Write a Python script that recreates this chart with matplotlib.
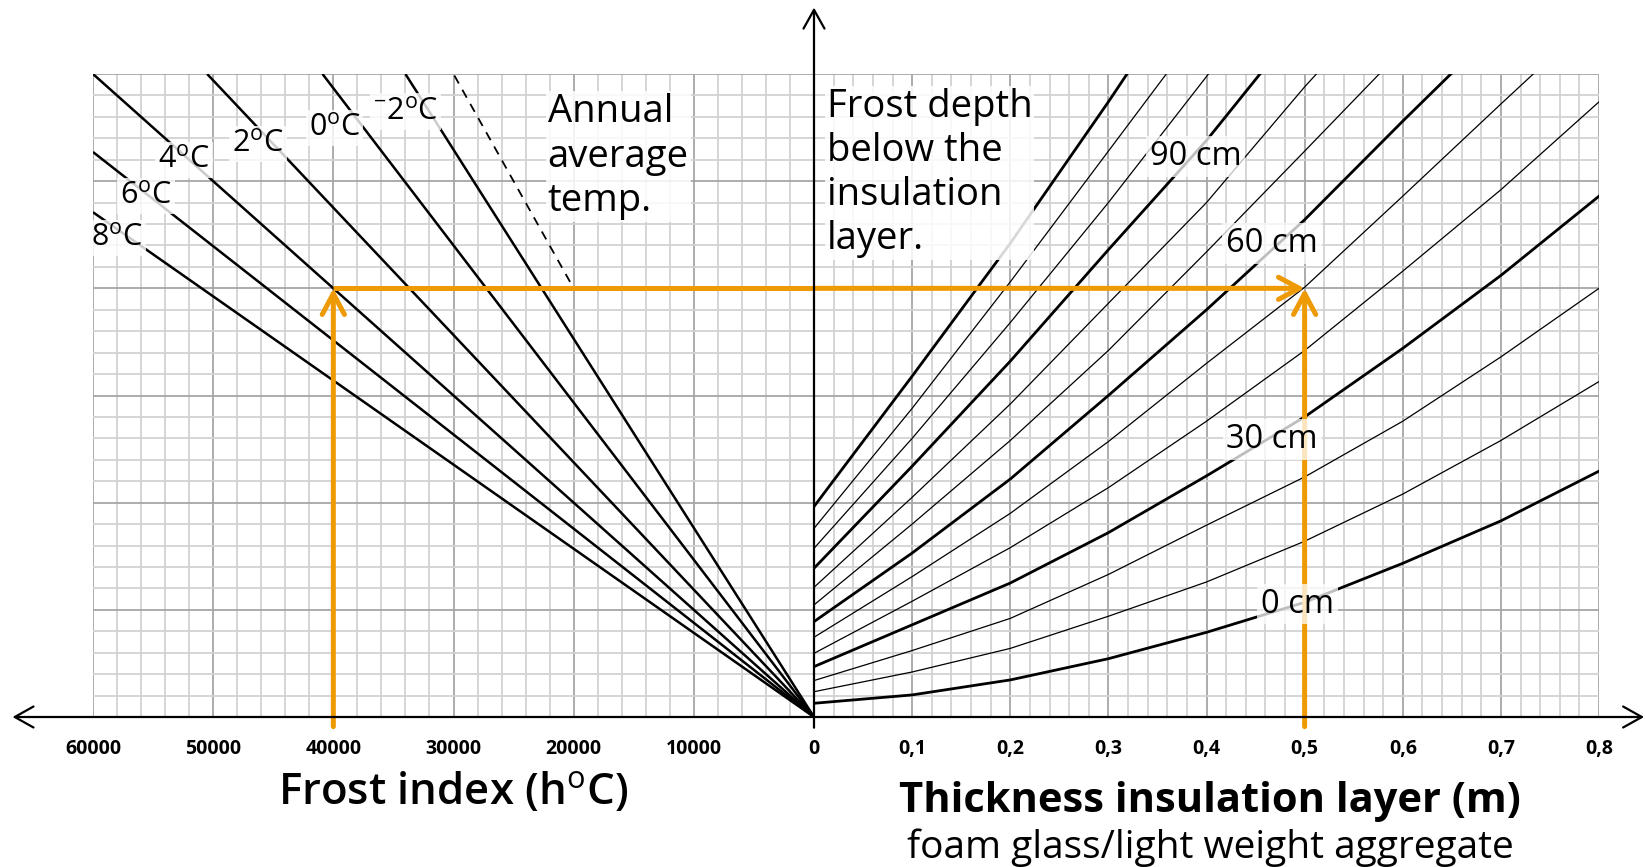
import matplotlib
matplotlib.use("Agg")
import matplotlib.pyplot as plt
from matplotlib.ticker import MultipleLocator, FixedLocator, FixedFormatter

# ---------------- data ----------------
frost_ticks = [60000, 50000, 40000, 30000, 20000, 10000, 0]
frost_tick_labels = ["60000", "50000", "40000", "30000", "20000", "10000", "0"]
thick_ticks = [0.0, 0.1, 0.2, 0.3, 0.4, 0.5, 0.6, 0.7, 0.8]
thick_tick_labels = ["", "0,1", "0,2", "0,3", "0,4", "0,5", "0,6", "0,7", "0,8"]

# annual average temperature lines (rays from origin), end point on chart border
temp_values = ["8", "6", "4", "2", "0", "-2"]
temp_end_frost = [60000, 60000, 60000, 50500, 40900, 34000]
temp_end_level = [23.55, 26.36, 30.0, 30.0, 30.0, 30.0]
temp_label_frost = [58000, 55600, 52400, 46300, 39900, 34000]
temp_label_level = [22.35, 24.3, 26.0, 26.75, 27.5, 28.25]

# dashed continuation line
dashed_frost = [20300, 30000]
dashed_level = [20.3, 30.0]

# frost depth curves (cm) vs insulation thickness (m)
depth_cm = [0, 10, 20, 30, 40, 50, 60, 70, 80, 90, 100, 110, 120]
depth_x = [
    [0, .1, .2, .3, .4, .5, .6, .7, .8],
    [0, .1, .2, .3, .4, .5, .6, .7, .8],
    [0, .1, .2, .3, .4, .5, .6, .7, .8],
    [0, .1, .2, .3, .4, .5, .6, .7, .8],
    [0, .1, .2, .3, .4, .5, .6, .7, .8],
    [0, .1, .2, .3, .4, .5, .6, .7, .733],
    [0, .1, .2, .3, .4, .5, .6, .649],
    [0, .1, .2, .3, .4, .5, .576],
    [0, .1, .2, .3, .4, .5, .512],
    [0, .1, .2, .3, .4, .4545],
    [0, .1, .2, .3, .402],
    [0, .1, .2, .3, .359],
    [0, .1, .2, .3, .319],
]
depth_y = [
    [0.64, 1.03, 1.73, 2.72, 3.95, 5.35, 7.17, 9.15, 11.47],
    [1.18, 2.1, 3.2, 4.7, 6.3, 8.2, 10.4, 12.9, 15.65],
    [1.70, 3.1, 4.6, 6.65, 8.95, 11.2, 13.8, 16.8, 20.0],
    [2.35, 4.3, 6.25, 8.6, 11.25, 14.0, 17.2, 20.6, 24.3],
    [2.97, 5.4, 7.9, 10.7, 13.8, 17.1, 20.8, 24.6, 28.7],
    [3.72, 6.55, 9.5, 12.85, 16.5, 20.05, 24.3, 28.6, 30.0],
    [4.45, 7.65, 11.1, 15.0, 19.0, 23.2, 27.8, 30.0],
    [5.23, 9.0, 12.9, 17.1, 21.7, 26.4, 30.0],
    [6.05, 10.25, 14.6, 19.3, 24.0, 29.4, 30.0],
    [6.94, 11.7, 16.6, 21.8, 26.9, 30.0],
    [7.87, 13.0, 18.4, 24.0, 30.0],
    [8.80, 14.4, 20.3, 26.4, 30.0],
    [9.82, 15.9, 22.1, 28.7, 30.0],
]
depth_label_cm = [0, 30, 60, 90]
depth_label_x = [0.493, 0.467, 0.467, 0.389]
depth_label_y = [5.27, 12.94, 22.1, 26.16]

example_frost = 40000
example_level = 20
example_thickness = 0.5

# ---------------- styling ----------------
plt.rcParams["font.family"] = ["Open Sans", "DejaVu Sans"]
plt.rcParams["mathtext.fontset"] = "custom"
plt.rcParams["mathtext.rm"] = "Open Sans"
plt.rcParams["mathtext.it"] = "Open Sans:italic"
plt.rcParams["mathtext.bf"] = "Open Sans:bold"

ORANGE = "#EE9A05"
MINOR = "#d2d2d2"
MAJOR = "#a6a6a6"

W, H = 1645, 867
fig = plt.figure(figsize=(W / 100, H / 100), dpi=100)

x0, xm, x1 = 93, 814, 1599
ytop, ybot = 74, 717
axl = fig.add_axes([x0 / W, 1 - ybot / H, (xm - x0) / W, (ybot - ytop) / H])
axr = fig.add_axes([xm / W, 1 - ybot / H, (x1 - xm) / W, (ybot - ytop) / H])

axl.set_xlim(60000, 0)
axr.set_xlim(0, 0.8)
for ax in (axl, axr):
    ax.set_ylim(0, 30)
    ax.yaxis.set_major_locator(MultipleLocator(5))
    ax.yaxis.set_minor_locator(MultipleLocator(1))
    ax.grid(which="minor", color=MINOR, lw=1.3, zorder=0)
    ax.grid(which="major", color=MAJOR, lw=1.3, zorder=0)
    ax.set_axisbelow(True)
    for s in ax.spines.values():
        s.set_visible(False)
    ax.tick_params(which="both", length=0)
    ax.tick_params(axis="y", labelleft=False)
    ax.tick_params(axis="x", pad=16, labelsize=14)
    ax.patch.set_alpha(0)

axl.xaxis.set_major_locator(FixedLocator(frost_ticks))
axl.xaxis.set_major_formatter(FixedFormatter(frost_tick_labels))
axl.xaxis.set_minor_locator(MultipleLocator(2000))
axr.xaxis.set_major_locator(FixedLocator(thick_ticks))
axr.xaxis.set_major_formatter(FixedFormatter(thick_tick_labels))
axr.xaxis.set_minor_locator(MultipleLocator(0.02))
for ax in (axl, axr):
    for lab in ax.get_xticklabels():
        lab.set_fontweight("bold")

# ---- left: temperature rays ----
for fe, ye in zip(temp_end_frost, temp_end_level):
    axl.plot([0, fe], [0, ye], color="black", lw=1.8, zorder=3,
             solid_capstyle="butt")
axl.plot(dashed_frost, dashed_level, color="black", lw=1.3, ls=(0, (5, 4)), zorder=3)

for t, f, y in zip(temp_values, temp_label_frost, temp_label_level):
    if t.startswith("-"):
        s = r"$^{-}$" + t[1:] + r"$^{\mathrm{o}}$C"
    else:
        s = t + r"$^{\mathrm{o}}$C"
    axl.text(f, y, s, fontsize=22, ha="center", va="center", zorder=6,
             bbox=dict(boxstyle="square,pad=0.1", fc="white", ec="none", alpha=0.8))

axl.text(22170, 29.1, "Annual\naverage\ntemp.", fontsize=27.5, ha="left", va="top",
         linespacing=1.22, zorder=6,
         bbox=dict(boxstyle="square,pad=0.05", fc="white", ec="none", alpha=0.85))

# ---- right: frost depth curves ----
for d, xs, ys in zip(depth_cm, depth_x, depth_y):
    heavy = d % 30 == 0
    axr.plot(xs, ys, color="black", lw=2.0 if heavy else 0.9, zorder=3,
             solid_joinstyle="round")

for d, x, y in zip(depth_label_cm, depth_label_x, depth_label_y):
    axr.text(x, y, f"{d} cm", fontsize=23.5, ha="center", va="center", zorder=7,
             bbox=dict(boxstyle="square,pad=0.12", fc="white", ec="none", alpha=0.75))

axr.text(0.013, 29.35, "Frost depth\nbelow the\ninsulation\nlayer.", fontsize=27.5,
         ha="left", va="top", linespacing=1.21, zorder=6,
         bbox=dict(boxstyle="square,pad=0.05", fc="white", ec="none", alpha=0.85))

# ---- axes with arrows ----
ax_arrow = dict(arrowstyle="->,head_length=0.75,head_width=0.42", color="black",
                lw=1.6, shrinkA=0, shrinkB=0, mutation_scale=18)
axl.annotate("", xy=(66700, 0), xytext=(0, 0), xycoords="data",
             arrowprops=ax_arrow, annotation_clip=False, zorder=8)
axr.annotate("", xy=(0.846, 0), xytext=(0, 0), xycoords="data",
             arrowprops=ax_arrow, annotation_clip=False, zorder=8)
axr.annotate("", xy=(0, 33.1), xytext=(0, -0.5), xycoords="data",
             arrowprops=ax_arrow, annotation_clip=False, zorder=8)

# ---- example (orange) ----
or_arrow = dict(arrowstyle="->,head_length=0.75,head_width=0.4", color=ORANGE,
                lw=3.6, shrinkA=0, shrinkB=0, mutation_scale=20)
axl.annotate("", xy=(example_frost, example_level), xytext=(example_frost, -0.45),
             arrowprops=or_arrow, annotation_clip=False, zorder=5)
axl.plot([example_frost, 0], [example_level, example_level], color=ORANGE, lw=3.6,
         zorder=5, solid_capstyle="butt")
axr.annotate("", xy=(example_thickness, example_level), xytext=(0, example_level),
             arrowprops=or_arrow, annotation_clip=False, zorder=5)
axr.annotate("", xy=(example_thickness, example_level),
             xytext=(example_thickness, -0.45),
             arrowprops=or_arrow, annotation_clip=False, zorder=5)

# ---- axis titles ----
fig.text(453 / W, 1 - 792 / H, r"Frost index (h$^{\mathrm{o}}$C)", fontsize=31.5,
         ha="center", va="center", fontweight="semibold")
fig.text(1210 / W, 1 - 802 / H, "Thickness insulation layer (m)", fontsize=30,
         ha="center", va="center", fontweight="bold")
fig.text(1210 / W, 1 - 848 / H, "foam glass/light weight aggregate", fontsize=28,
         ha="center", va="center")

fig.savefig("out.png", dpi=100)
